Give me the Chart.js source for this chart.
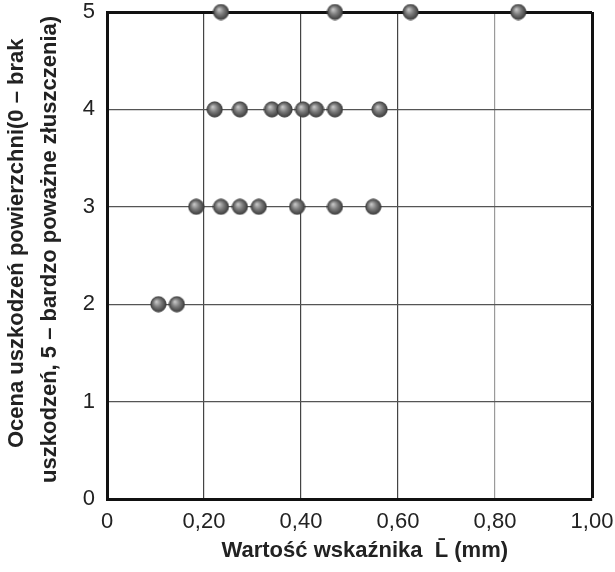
<!DOCTYPE html>
<html>
<head>
<meta charset="utf-8">
<script src="https://cdn.jsdelivr.net/npm/chart.js@4"></script>
<style>
  html, body { margin: 0; padding: 0; background: #fff; }
  #wrap { width: 615px; height: 572px; }
</style>
</head>
<body>
<div id="wrap"><canvas id="chart"></canvas></div>
<script>
"use strict";

// wartość wskaźnika L (mm) dla każdej oceny
const scoreLevels = [2, 3, 4, 5];
const valuesScore2 = [0.106, 0.144];
const valuesScore3 = [0.184, 0.235, 0.274, 0.313, 0.392, 0.470, 0.549];
const valuesScore4 = [0.222, 0.274, 0.340, 0.366, 0.404, 0.431, 0.470, 0.562];
const valuesScore5 = [0.235, 0.470, 0.626, 0.848];

const xTickLabels = ['0', '0,20', '0,40', '0,60', '0,80', '1,00'];
// leading spaces nudge the titles off-centre like in the original
const yTitleLines = ['    Ocena uszkodzeń powierzchni(0 – brak', '  uszkodzeń, 5 – bardzo poważne złuszczenia)'];
const xTitle = '     Wartość wskaźnika  L\u0304 (mm)';

(() => {
  // shaded ball used as point style
  const ball = document.createElement('canvas');
  ball.width = 17;
  ball.height = 17;
  const bctx = ball.getContext('2d');
  const g = bctx.createRadialGradient(6.5, 6, 0.5, 8.5, 8.5, 8.5);
  g.addColorStop(0, '#c4c4c4');
  g.addColorStop(0.45, '#7a7a7a');
  g.addColorStop(1, '#333333');
  bctx.beginPath();
  bctx.arc(8.5, 8.5, 7.6, 0, Math.PI * 2);
  bctx.fillStyle = g;
  bctx.fill();
  bctx.lineWidth = 1;
  bctx.strokeStyle = '#3a3a3a';
  bctx.stroke();

  const groups = [valuesScore2, valuesScore3, valuesScore4, valuesScore5];
  const points = [];
  groups.forEach((vals, i) => {
    vals.forEach(v => points.push({ x: v, y: scoreLevels[i] }));
  });

  Chart.defaults.font.family = '"Liberation Sans", Arial, sans-serif';
  Chart.defaults.color = '#222';

  new Chart(document.getElementById('chart'), {
    type: 'scatter',
    data: {
      datasets: [{
        data: points,
        pointStyle: ball,
        clip: false
      }]
    },
    options: {
      responsive: true,
      maintainAspectRatio: false,
      animation: false,
      layout: { padding: { top: 12, right: 23, left: 0, bottom: 0 }, autoPadding: false },
      plugins: {
        legend: { display: false },
        tooltip: { enabled: false }
      },
      scales: {
        x: {
          type: 'linear',
          min: 0,
          max: 1,
          afterFit: (s) => {
            s.height = 73;
            s.paddingLeft = 0;
            s.paddingRight = 0;
          },
          border: { color: '#111', width: 3 },
          grid: {
            drawTicks: false,
            color: (ctx) => {
              const v = ctx.tick ? ctx.tick.value : 0;
              if (v >= 0.99) return '#111';
              if (Math.abs(v - 0.8) < 0.01) return '#9a9a9a';
              return '#444';
            },
            lineWidth: (ctx) => (ctx.tick && ctx.tick.value >= 0.99 ? 3 : 1.2)
          },
          ticks: {
            stepSize: 0.2,
            padding: 10,
            font: { size: 22 },
            color: '#222',
            maxRotation: 0,
            callback: (v, i) => xTickLabels[i]
          },
          title: {
            display: true,
            text: xTitle,
            font: { size: 22, weight: 'bold' },
            color: '#222',
            padding: { top: 0, bottom: 8 }
          }
        },
        y: {
          type: 'linear',
          min: 0,
          max: 5,
          afterFit: (s) => {
            s.width = 107;
            s.paddingTop = 0;
            s.paddingBottom = 0;
          },
          border: { color: '#111', width: 3 },
          grid: {
            drawTicks: false,
            color: (ctx) => (ctx.tick && ctx.tick.value >= 5 ? '#111' : '#555'),
            lineWidth: (ctx) => (ctx.tick && ctx.tick.value >= 5 ? 3 : 1.2)
          },
          ticks: {
            stepSize: 1,
            padding: 12,
            font: { size: 22 },
            color: '#222'
          },
          title: {
            display: true,
            text: yTitleLines,
            font: { size: 22, weight: 'bold', lineHeight: 1.5 },
            color: '#222',
            padding: { top: 0, bottom: 0 }
          }
        }
      }
    }
  });
})();
</script>
</body>
</html>
